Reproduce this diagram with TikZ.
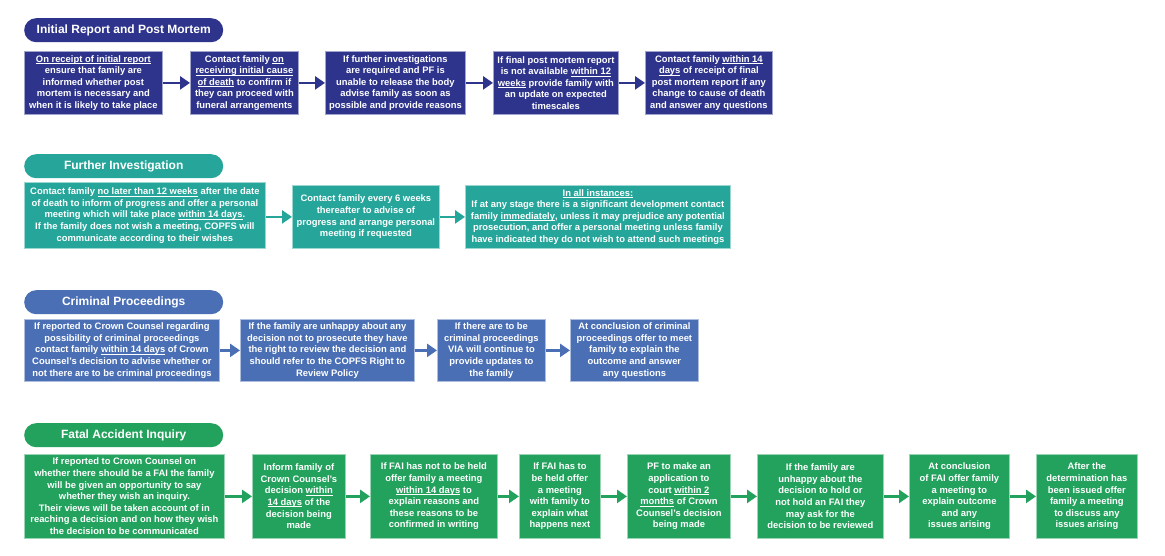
\documentclass[tikz,border=0pt]{standalone}
\usepackage{fontspec}
\setmainfont{Liberation Sans}
\usetikzlibrary{arrows.meta}

\definecolor{colIR}{RGB}{46,52,140}
\definecolor{colFI}{RGB}{38,166,154}
\definecolor{colCP}{RGB}{74,111,181}
\definecolor{colFAI}{RGB}{34,162,92}

% underline that sits just below the baseline
\newcommand\ulin[1]{\setbox0\hbox{#1}\rlap{\rule[-1.6pt]{\wd0}{0.7pt}}\box0\relax}

\tikzset{
  box/.style={anchor=north west, inner sep=0pt, align=center, text=white,
    line width=0.8pt, font=\bfseries\fontsize{9.4}{11.6}\selectfont},
  pill/.style={anchor=north west, inner sep=0pt, text=white, rounded corners=12pt,
    minimum width=199pt, minimum height=24pt, font=\bfseries\fontsize{12}{14}\selectfont},
  flow/.style={line width=2.6pt, -{Triangle[length=10pt,width=13pt]}}
}

\begin{document}
\begin{tikzpicture}[x=1pt,y=-1pt]
\useasboundingbox[fill=white] (0,0) rectangle (1165,556);

% Initial Report and Post Mortem
\node[pill, fill=colIR] (h1) at (24,18) {Initial Report and Post Mortem};
\tikzset{box/.append style={fill=colIR, draw=white!55!colIR, minimum height=63pt}}
\node[box, minimum width=138pt] (r1a) at (24,51) {\ulin{On receipt of initial report}\\ ensure that family are\\ informed whether post\\ mortem is necessary and\\ when it is likely to take place};
\node[box, minimum width=108pt] (r1b) at (190,51) {Contact family \ulin{on}\\ \ulin{receiving initial cause}\\ \ulin{of death} to confirm if\\ they can proceed with\\ funeral arrangements};
\node[box, minimum width=140pt] (r1c) at (325,51) {If further investigations\\ are required and PF is\\ unable to release the body\\ advise family as soon as\\ possible and provide reasons};
\node[box, minimum width=125pt] (r1d) at (493,51) {If final post mortem report\\ is not available \ulin{within 12}\\ \ulin{weeks} provide family with\\ an update on expected\\ timescales};
\node[box, minimum width=127pt] (r1e) at (645,51) {Contact family \ulin{within 14}\\ \ulin{days} of receipt of final\\ post mortem report if any\\ change to cause of death\\ and answer any questions};
\draw[flow, colIR] (r1a) -- (r1b);
\draw[flow, colIR] (r1b) -- (r1c);
\draw[flow, colIR] (r1c) -- (r1d);
\draw[flow, colIR] (r1d) -- (r1e);

% Further Investigation
\node[pill, fill=colFI] (h2) at (24,154) {Further Investigation};
\tikzset{box/.append style={fill=colFI, draw=white!55!colFI}}
\node[box, minimum width=241pt, minimum height=66pt] (r2a) at (24,182) {Contact family \ulin{no later than 12 weeks} after the date\\ of death to inform of progress and offer a personal\\ meeting which will take place \ulin{within 14 days}.\\ If the family does not wish a meeting, COPFS will\\ communicate according to their wishes};
\node[box, minimum width=147pt, minimum height=63pt] (r2b) at (292,185) {Contact family every 6 weeks\\ thereafter to advise of\\ progress and arrange personal\\ meeting if requested};
\node[box, minimum width=265pt, minimum height=63pt] (r2c) at (465,185) {\ulin{In all instances:}\\ If at any stage there is a significant development contact\\ family \ulin{immediately}, unless it may prejudice any potential\\ prosecution, and offer a personal meeting unless family\\ have indicated they do not wish to attend such meetings};
\draw[flow, colFI] (r2b.west -| r2a.east) -- (r2b.west);
\draw[flow, colFI] (r2b) -- (r2c);

% Criminal Proceedings
\node[pill, fill=colCP] (h3) at (24,290) {Criminal Proceedings};
\tikzset{box/.append style={fill=colCP, draw=white!55!colCP, minimum height=62pt}}
\node[box, minimum width=195pt] (r3a) at (24,319) {If reported to Crown Counsel regarding\\ possibility of criminal proceedings\\ contact family \ulin{within 14 days} of Crown\\ Counsel's decision to advise whether or\\ not there are to be criminal proceedings};
\node[box, minimum width=174pt] (r3b) at (240,319) {If the family are unhappy about any\\ decision not to prosecute they have\\ the right to review the decision and\\ should refer to the COPFS Right to\\ Review Policy};
\node[box, minimum width=108pt] (r3c) at (437,319) {If there are to be\\ criminal proceedings\\ VIA will continue to\\ provide updates to\\ the family};
\node[box, minimum width=128pt] (r3d) at (570,319) {At conclusion of criminal\\ proceedings offer to meet\\ family to explain the\\ outcome and answer\\ any questions};
\draw[flow, colCP] (r3a) -- (r3b);
\draw[flow, colCP] (r3b) -- (r3c);
\draw[flow, colCP] (r3c) -- (r3d);

% Fatal Accident Inquiry
\node[pill, fill=colFAI] (h4) at (24,423) {Fatal Accident Inquiry};
\tikzset{box/.append style={fill=colFAI, draw=white!55!colFAI, minimum height=84pt}}
\node[box, minimum width=200pt] (r4a) at (24,454) {If reported to Crown Counsel on\\ whether there should be a FAI the family\\ will be given an opportunity to say\\ whether they wish an inquiry.\\ Their views will be taken account of in\\ reaching a decision and on how they wish\\ the decision to be communicated};
\node[box, minimum width=93pt] (r4b) at (252,454) {Inform family of\\ Crown Counsel's\\ decision \ulin{within}\\ \ulin{14 days} of the\\ decision being\\ made};
\node[box, minimum width=127pt] (r4c) at (370,454) {If FAI has not to be held\\ offer family a meeting\\ \ulin{within 14 days} to\\ explain reasons and\\ these reasons to be\\ confirmed in writing};
\node[box, minimum width=81pt] (r4d) at (519,454) {If FAI has to\\ be held offer\\ a meeting\\ with family to\\ explain what\\ happens next};
\node[box, minimum width=103pt] (r4e) at (627,454) {PF to make an\\ application to\\ court \ulin{within 2}\\ \ulin{months} of Crown\\ Counsel's decision\\ being made};
\node[box, minimum width=126pt] (r4f) at (757,454) {If the family are\\ unhappy about the\\ decision to hold or\\ not hold an FAI they\\ may ask for the\\ decision to be reviewed};
\node[box, minimum width=100pt] (r4g) at (909,454) {At conclusion\\ of FAI offer family\\ a meeting to\\ explain outcome\\ and any\\ issues arising};
\node[box, minimum width=101pt] (r4h) at (1036,454) {After the\\ determination has\\ been issued offer\\ family a meeting\\ to discuss any\\ issues arising};
\draw[flow, colFAI] (r4a) -- (r4b);
\draw[flow, colFAI] (r4b) -- (r4c);
\draw[flow, colFAI] (r4c) -- (r4d);
\draw[flow, colFAI] (r4d) -- (r4e);
\draw[flow, colFAI] (r4e) -- (r4f);
\draw[flow, colFAI] (r4f) -- (r4g);
\draw[flow, colFAI] (r4g) -- (r4h);

\end{tikzpicture}
\end{document}
